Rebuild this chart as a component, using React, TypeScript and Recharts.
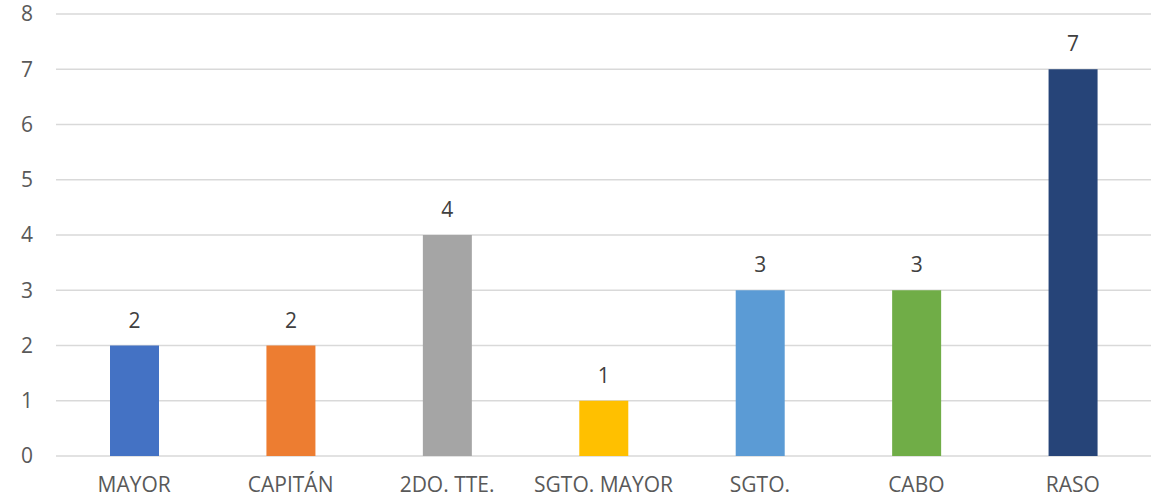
import React from "react";
import {
  BarChart,
  Bar,
  XAxis,
  YAxis,
  CartesianGrid,
  Cell,
  LabelList,
} from "recharts";

const ranks = [
  "MAYOR",
  "CAPITÁN",
  "2DO. TTE.",
  "SGTO. MAYOR",
  "SGTO.",
  "CABO",
  "RASO",
];
const counts = [2, 2, 4, 1, 3, 3, 7];
const barColors = [
  "#4472C4",
  "#ED7D31",
  "#A5A5A5",
  "#FFC000",
  "#5B9BD5",
  "#70AD47",
  "#264478",
];
const yTicks = [0, 1, 2, 3, 4, 5, 6, 7, 8];

const data = ranks.map((rank, i) => ({ rank, count: counts[i] }));

const font = "'Open Sans', sans-serif";

export default function App() {
  return (
    <div style={{ position: "absolute", left: 0, top: 0, background: "#fff" }}>
      <BarChart
        width={1160}
        height={500}
        data={data}
        margin={{ top: 14, right: 9, left: 0, bottom: 14 }}
      >
        <CartesianGrid vertical={false} stroke="#d9d9d9" strokeWidth={1.3} />
        <XAxis
          dataKey="rank"
          height={30}
          axisLine={false}
          tickLine={false}
          tickMargin={15}
          interval={0}
          tick={{ fill: "#595959", fontSize: 21, fontFamily: font }}
        />
        <YAxis
          width={56}
          domain={[0, 8]}
          ticks={yTicks}
          axisLine={false}
          tickLine={false}
          tickMargin={17}
          tick={{ fill: "#595959", fontSize: 21, fontFamily: font }}
        />
        <Bar dataKey="count" barSize={49} isAnimationActive={false}>
          {data.map((d, i) => (
            <Cell key={d.rank} fill={barColors[i]} />
          ))}
          <LabelList
            dataKey="count"
            position="top"
            offset={18}
            fill="#404040"
            fontSize={21}
            fontFamily={font}
          />
        </Bar>
      </BarChart>
    </div>
  );
}
